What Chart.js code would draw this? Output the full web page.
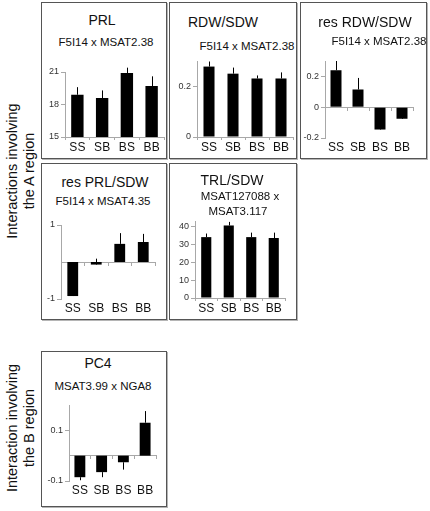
<!DOCTYPE html>
<html>
<head>
<meta charset="utf-8">
<script src="https://cdn.jsdelivr.net/npm/chart.js@4.4.1/dist/chart.umd.min.js"></script>
<style>
  body { margin: 0; background: #fff; font-family: "Liberation Sans", Arial, sans-serif; color: #111; }
  #page { position: relative; width: 430px; height: 511px; overflow: hidden; }
  .box { position: absolute; box-sizing: border-box; border: 1px solid #555; box-shadow: 1px 1px 0 #b5b5b5; }
  .txt { position: absolute; white-space: nowrap; transform: translate(-50%, -50%); line-height: 1; }
  .side { position: absolute; width: 220px; text-align: center; font-size: 14.5px; line-height: 17px;
          transform: translate(-50%, -50%) rotate(-90deg); }
  canvas { position: absolute; }
</style>
</head>
<body>
<div id="page">
  <div class="side" style="left:21px; top:171px;">Interactions involving<br>the A region</div>
  <div class="side" style="left:21px; top:428px;">Interaction involving<br>the B region</div>
</div>
<script>
"use strict";
// genotype classes (x categories)
const genotypes = ["SS", "SB", "BS", "BB"];

// PRL
const prlValues = [18.9, 18.6, 20.9, 19.7];
const prlErrors = [0.7, 0.7, 0.5, 0.9];
const prlTicks = [15, 18, 21];

// RDW/SDW
const rdwValues = [0.278, 0.25, 0.231, 0.231];
const rdwErrors = [0.02, 0.024, 0.012, 0.024];
const rdwTicks = [0, 0.2];

// res RDW/SDW
const resRdwValues = [0.24, 0.115, -0.145, -0.075];
const resRdwErrors = [0.06, 0.075, 0.04, 0.03];
const resRdwTicks = [-0.2, 0, 0.2];

// res PRL/SDW
const resPrlValues = [-0.92, -0.07, 0.49, 0.54];
const resPrlErrors = [0.3, 0.16, 0.29, 0.22];
const resPrlTicks = [-1, 1];

// TRL/SDW
const trlValues = [34, 40.5, 34, 33.5];
const trlErrors = [2, 2, 2.5, 3];
const trlTicks = [0, 10, 20, 30, 40];

// PC4
const pc4Values = [-0.085, -0.065, -0.026, 0.13];
const pc4Errors = [-0.012, -0.02, -0.029, 0.046];
const pc4Ticks = [-0.1, 0.1];

const axisGray = "#a8a8a8";
const family = "'Liberation Sans', Arial, sans-serif";

// draws the one-sided error bars from the bar end
const errorBars = {
  id: "errorBars",
  afterDatasetsDraw(chart) {
    const ds = chart.data.datasets[0];
    const meta = chart.getDatasetMeta(0);
    const yScale = chart.scales.y;
    const ctx = chart.ctx;
    ctx.save();
    ctx.strokeStyle = "#000";
    ctx.lineWidth = 1;
    meta.data.forEach((bar, i) => {
      const x = Math.round(bar.x) + 0.5;
      const end = yScale.getPixelForValue(ds.data[i] + ds.errors[i]);
      ctx.beginPath();
      ctx.moveTo(x, bar.y);
      ctx.lineTo(x, end);
      ctx.stroke();
    });
    ctx.restore();
  }
};

const panels = [
  { values: prlValues, errors: prlErrors, ticks: prlTicks, min: 15, max: 21, bar: 0.5,
    box: [41, 2, 126, 157], plot: [65, 72, 164, 137],
    texts: [["PRL", 102, 20, 14], ["F5I14 x MSAT2.38", 106, 43, 11.5]] },
  { values: rdwValues, errors: rdwErrors, ticks: rdwTicks, min: 0, max: 0.3, bar: 0.46,
    box: [169, 2, 128, 157], plot: [197, 61, 293, 137],
    texts: [["RDW/SDW", 223, 22, 14], ["F5I14 x MSAT2.38", 247, 47, 11.5]] },
  { values: resRdwValues, errors: resRdwErrors, ticks: resRdwTicks, min: -0.2, max: 0.3, bar: 0.5,
    box: [300, 2, 127, 157], plot: [325, 61, 413, 138],
    texts: [["res RDW/SDW", 365, 22, 14], ["F5I14 x MSAT2.38", 379, 42, 11.5]] },
  { values: resPrlValues, errors: resPrlErrors, ticks: resPrlTicks, min: -1, max: 1, bar: 0.46,
    box: [41, 163, 126, 157], plot: [61, 225, 155, 299],
    texts: [["res PRL/SDW", 105, 182, 14], ["F5I14 x MSAT4.35", 103, 202, 11.5]] },
  { values: trlValues, errors: trlErrors, ticks: trlTicks, min: 0, max: 43, bar: 0.45,
    box: [169, 163, 128, 157], plot: [195, 221, 285, 298],
    texts: [["TRL/SDW", 232, 180, 14], ["MSAT127088 x", 240, 197, 11.5], ["MSAT3.117", 238, 212, 11.5]] },
  { values: pc4Values, errors: pc4Errors, ticks: pc4Ticks, min: -0.1, max: 0.2, bar: 0.5,
    box: [41, 351, 126, 156], plot: [69, 405, 156, 481],
    texts: [["PC4", 98, 363, 14], ["MSAT3.99 x NGA8", 103, 387, 11.5]] }
];

const page = document.getElementById("page");

function makePanel(p) {
  const box = document.createElement("div");
  box.className = "box";
  box.style.left = p.box[0] + "px";
  box.style.top = p.box[1] + "px";
  box.style.width = p.box[2] + "px";
  box.style.height = p.box[3] + "px";
  page.appendChild(box);

  p.texts.forEach(([text, x, y, size]) => {
    const t = document.createElement("div");
    t.className = "txt";
    t.textContent = text;
    t.style.left = x + "px";
    t.style.top = y + "px";
    t.style.fontSize = size + "px";
    page.appendChild(t);
  });

  const [l, t, r, b] = p.plot;
  const padL = 30, padT = 12, padR = 4, padB = 18;
  const cv = document.createElement("canvas");
  cv.width = r - l + padL + padR;
  cv.height = b - t + padT + padB;
  cv.style.left = (l - padL) + "px";
  cv.style.top = (t - padT) + "px";
  page.appendChild(cv);

  const zeroAxis = p.min < 0;
  const scales = {
    x: {
      type: "category",
      position: "bottom",
      offset: true,
      afterFit: (s) => { s.height = padB; },
      border: { display: !zeroAxis, color: axisGray },
      grid: { display: !zeroAxis, offset: true, drawOnChartArea: false, drawTicks: !zeroAxis,
              tickLength: 3, color: axisGray },
      ticks: { color: "#111", font: { size: 12, family }, padding: zeroAxis ? 2 : 0,
               maxRotation: 0, autoSkip: false }
    },
    y: {
      min: p.min,
      max: p.max,
      afterFit: (s) => { s.width = padL; },
      afterBuildTicks: (s) => { s.ticks = p.ticks.map((v) => ({ value: v })); },
      border: { color: axisGray },
      grid: { drawOnChartArea: false, tickLength: 4, color: axisGray },
      ticks: { color: "#333", font: { size: 9, family }, padding: 2, callback: (v) => String(v) }
    }
  };
  if (zeroAxis) {
    // category axis drawn on the zero line, like the Excel originals
    scales.x0 = {
      type: "category",
      position: { y: 0 },
      offset: true,
      border: { color: axisGray },
      grid: { offset: true, drawOnChartArea: false, tickLength: 3, color: axisGray },
      ticks: { display: false }
    };
  }

  new Chart(cv.getContext("2d"), {
    type: "bar",
    data: {
      labels: genotypes,
      datasets: [{
        data: p.values,
        errors: p.errors,
        backgroundColor: "#000",
        borderWidth: 0,
        barPercentage: p.bar,
        categoryPercentage: 1
      }]
    },
    options: {
      responsive: false,
      animation: false,
      layout: { padding: { top: padT, right: padR, left: 0, bottom: 0 } },
      plugins: { legend: { display: false }, tooltip: { enabled: false } },
      scales
    },
    plugins: [errorBars]
  });
}

panels.forEach(makePanel);
</script>
</body>
</html>
